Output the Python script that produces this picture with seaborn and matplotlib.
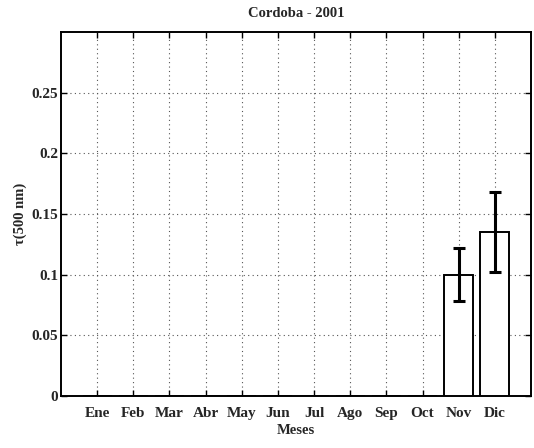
import matplotlib
matplotlib.use("Agg")
import matplotlib.pyplot as plt
import seaborn as sns
import numpy as np
import pandas as pd

meses = ["Ene", "Feb", "Mar", "Abr", "May", "Jun", "Jul", "Ago", "Sep", "Oct", "Nov", "Dic"]
tau_500 = [0, 0, 0, 0, 0, 0, 0, 0, 0, 0, 0.100, 0.135]
tau_err = [0, 0, 0, 0, 0, 0, 0, 0, 0, 0, 0.022, 0.033]
yticks = [0, 0.05, 0.1, 0.15, 0.2, 0.25]
ytick_labels = ["0", "0.05", "0.1", "0.15", "0.2", "0.25"]

sns.set_theme(style="white")
plt.rcParams["font.family"] = ["Liberation Serif", "DejaVu Serif"]

df = pd.DataFrame({"mes": meses, "tau": tau_500})

fig = plt.figure(figsize=(5.34, 4.48), dpi=100)
ax = fig.add_axes([61 / 534, 52 / 448, 470 / 534, 364 / 448])

sns.barplot(data=df, x="mes", y="tau", order=meses, color="white",
            edgecolor="black", linewidth=1.4, width=0.8, ax=ax, zorder=3)

pos = np.arange(len(meses))
mask = np.array(tau_err) > 0
ax.errorbar(pos[mask], np.array(tau_500)[mask], yerr=np.array(tau_err)[mask],
            fmt="none", ecolor="black", elinewidth=2.2, capsize=4.5,
            capthick=2.2, zorder=4)

ax.set_xlim(-1, len(meses))
ax.set_ylim(0, 0.3)
ax.set_xticks(pos)
ax.set_xticklabels(meses, fontsize=11, fontweight="bold")
ax.set_yticks(yticks)
ax.set_yticklabels(ytick_labels, fontsize=11, fontweight="bold")

ax.grid(True, which="major", color="#555555", linestyle=(0, (1, 3)), linewidth=0.8, zorder=0)
ax.set_axisbelow(True)

ax.tick_params(axis="both", direction="in", length=4, width=1.0, color="black",
               top=True, right=True, bottom=True, left=True)
ax.tick_params(axis="x", pad=8)
ax.tick_params(axis="y", pad=2)
for side in ["left", "right", "top", "bottom"]:
    ax.spines[side].set_visible(True)
    ax.spines[side].set_color("black")
    ax.spines[side].set_linewidth(1.4)

ax.set_xlabel("Meses", fontsize=10.5, fontweight="bold", labelpad=3)
ax.set_ylabel("τ(500 nm)", fontsize=10.5, fontweight="bold", labelpad=3)
ax.set_title("Cordoba - 2001", fontsize=10.5, fontweight="bold", pad=11)

fig.savefig("out.png", dpi=100, facecolor="white")
